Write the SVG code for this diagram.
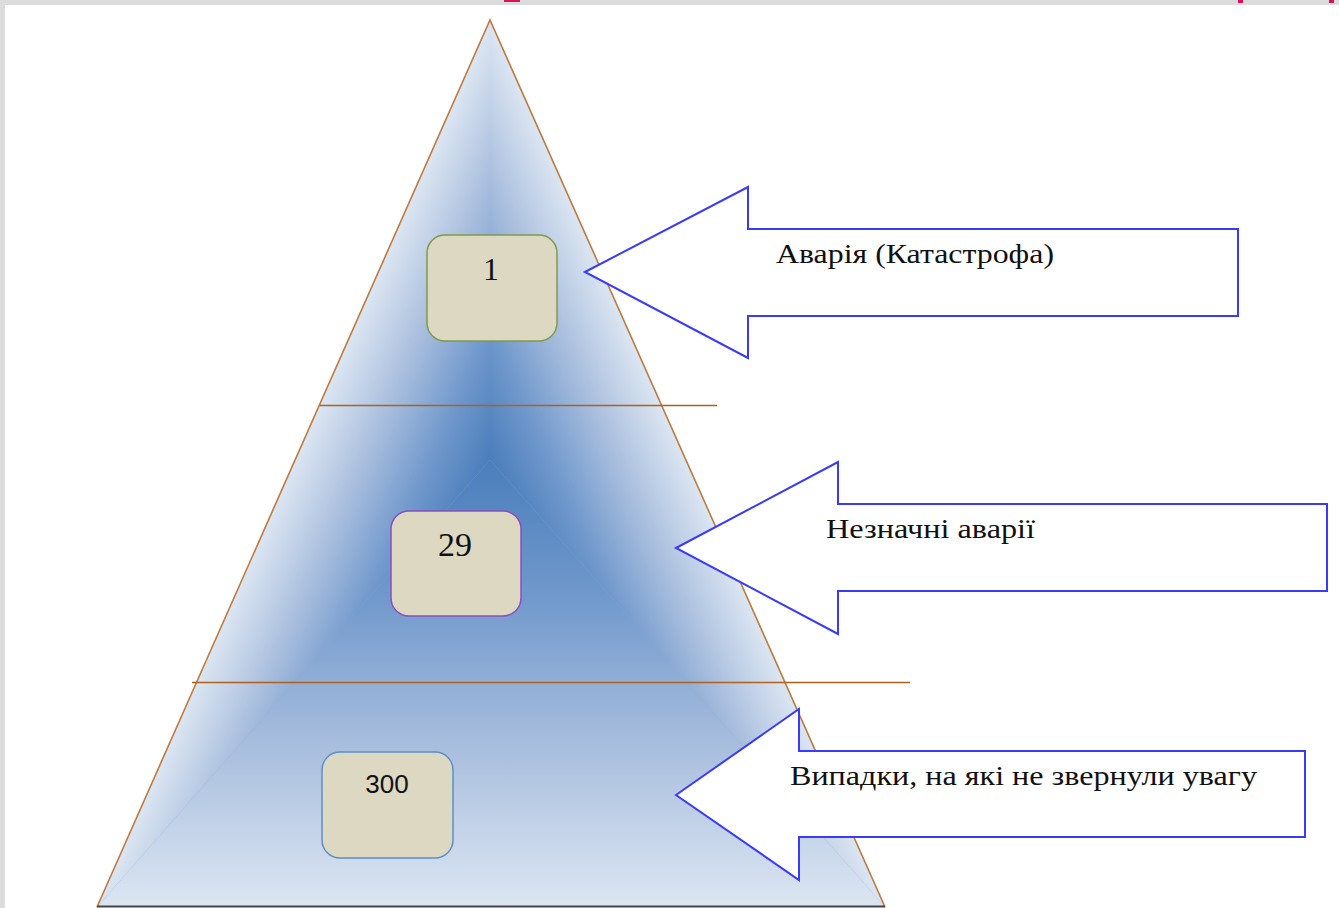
<svg xmlns="http://www.w3.org/2000/svg" width="1339" height="908" viewBox="0 0 1339 908">
<style>
.box{fill:#ddd8c2;stroke-width:1.5}
.arrow{fill:#ffffff;stroke:#3a3aff;stroke-width:2;stroke-linejoin:miter}
.lbl{font-family:"Liberation Serif","Times New Roman",serif;font-size:27px;fill:#111}
.num{font-family:"Liberation Serif","Times New Roman",serif;fill:#111;text-anchor:middle}
.hline{stroke:#b0601e;stroke-width:1.5}
</style>
<defs>
<linearGradient id="gL" gradientUnits="userSpaceOnUse" x1="327.1" y1="387.7" x2="490" y2="460">
<stop offset="0" stop-color="#dce6f2"/><stop offset="0.35" stop-color="#aabfde"/><stop offset="0.7" stop-color="#7098cc"/><stop offset="1" stop-color="#4a7ebb"/>
</linearGradient>
<linearGradient id="gR" gradientUnits="userSpaceOnUse" x1="653.5" y1="387.2" x2="490" y2="460">
<stop offset="0" stop-color="#dce6f2"/><stop offset="0.35" stop-color="#aabfde"/><stop offset="0.7" stop-color="#7098cc"/><stop offset="1" stop-color="#4a7ebb"/>
</linearGradient>
<linearGradient id="gB" gradientUnits="userSpaceOnUse" x1="490" y1="907" x2="490" y2="460">
<stop offset="0" stop-color="#dce6f2"/><stop offset="0.35" stop-color="#aabfde"/><stop offset="0.7" stop-color="#7098cc"/><stop offset="1" stop-color="#4a7ebb"/>
</linearGradient>
</defs>
<rect x="0" y="0" width="1339" height="908" fill="#ffffff"/>
<rect x="0" y="0" width="1339" height="5" fill="#dcdcdc"/>
<rect x="0" y="0" width="5" height="908" fill="#dcdcdc"/>
<rect x="504" y="0" width="16" height="2" fill="#d4145a"/>
<rect x="1238" y="0" width="5" height="3" fill="#d4145a"/>
<rect x="1329" y="0" width="5" height="3" fill="#d4145a"/>

<g id="pyramid">
<polygon points="490,20 97,907 885,907" fill="#8fa9d1"/>
<polygon points="490,460 490,20 97,907" fill="url(#gL)"/>
<polygon points="490,460 490,20 885,907" fill="url(#gR)"/>
<polygon points="490,460 97,907 885,907" fill="url(#gB)"/>
<polyline points="97,907 490,20 885,907" fill="none" stroke="#bf7a40" stroke-width="1.6"/>
<line x1="97" y1="906.5" x2="885" y2="906.5" stroke="#444" stroke-width="2"/>
<line class="hline" x1="320" y1="405.5" x2="717" y2="405.5"/>
<line class="hline" x1="192" y1="682.5" x2="910" y2="682.5"/>
</g>

<g id="box1">
<rect class="box" x="427" y="235" width="130" height="106" rx="18" stroke="#7f9a48"/>
<text class="num" x="491" y="280" font-size="32">1</text>
</g>
<g id="box2">
<rect class="box" x="391" y="511" width="130" height="105" rx="18" stroke="#8a4fbf"/>
<text class="num" x="455" y="556" font-size="34">29</text>
</g>
<g id="box3">
<rect class="box" x="322" y="752" width="131" height="106" rx="18" stroke="#5d8ec8"/>
<text x="387" y="793" font-family="'Liberation Sans',Arial,sans-serif" font-size="26" fill="#111" text-anchor="middle">300</text>
</g>

<g id="connectors">
<polygon class="arrow" points="585,272 748,187 748,229 1238,229 1238,316 748,316 748,358"/>
<polygon class="arrow" points="676,548 838,462 838,504 1327,504 1327,591 838,591 838,634"/>
<polygon class="arrow" points="676,795 799,709 799,751 1305,751 1305,837 799,837 799,880"/>
</g>

<g id="label1">
<text class="lbl" x="776" y="263" textLength="278" lengthAdjust="spacingAndGlyphs">Аварія (Катастрофа)</text>
</g>
<g id="label2">
<text class="lbl" x="826" y="538" textLength="209" lengthAdjust="spacingAndGlyphs">Незначні аварії</text>
</g>
<g id="label3">
<text class="lbl" x="790" y="785" textLength="467" lengthAdjust="spacingAndGlyphs">Випадки, на які не звернули увагу</text>
</g>
</svg>
